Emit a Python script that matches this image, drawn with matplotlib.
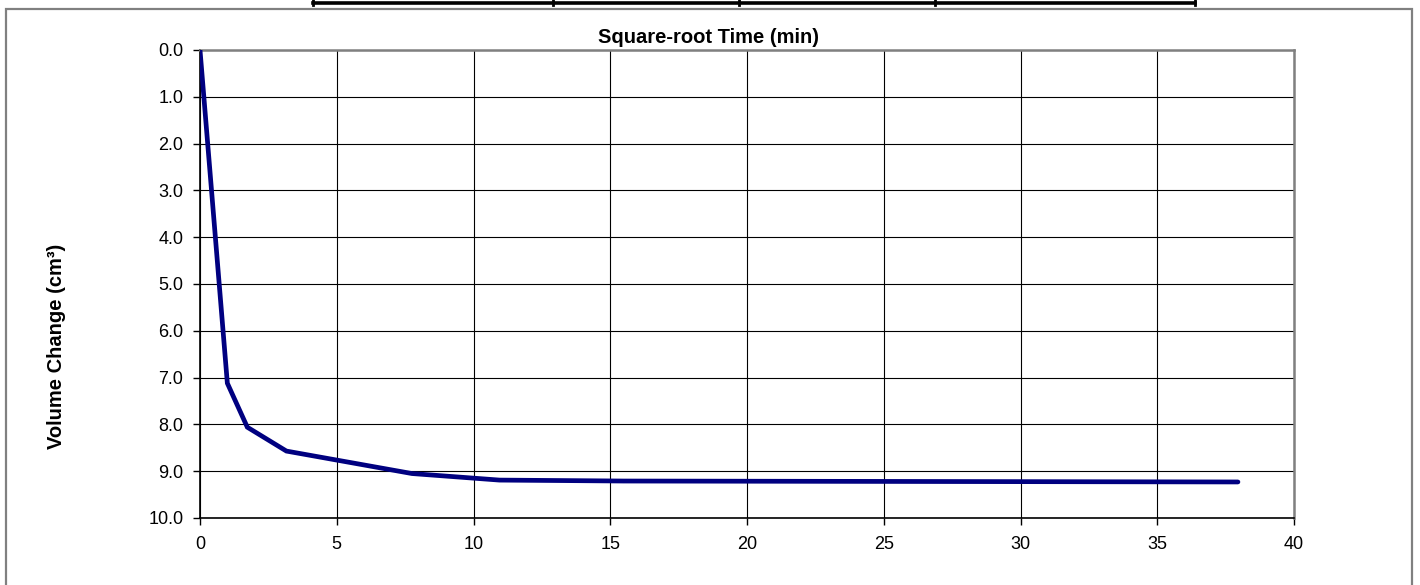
import matplotlib
matplotlib.use("Agg")
import matplotlib.pyplot as plt
from matplotlib.lines import Line2D
from matplotlib.patches import Rectangle

plt.rcParams['font.family'] = ['Liberation Sans', 'DejaVu Sans']

# square-root of elapsed time (min^0.5) and measured volume change (cm3)
sqrt_time = [0.0, 1.0, 1.73, 3.16, 7.75, 10.95, 15.49, 37.95]
volume_change = [0.0, 7.12, 8.06, 8.57, 9.05, 9.19, 9.21, 9.23]

x_ticks = [0, 5, 10, 15, 20, 25, 30, 35, 40]
y_ticks = [0, 1, 2, 3, 4, 5, 6, 7, 8, 9, 10]

W, H = 1420, 585
fig = plt.figure(figsize=(W / 100, H / 100), dpi=100)
ax = fig.add_axes([200 / W, 1 - 518 / H, 1094 / W, 468 / H])

ax.plot(sqrt_time, volume_change, color='#000080', lw=3.4,
        solid_capstyle='round', solid_joinstyle='miter', zorder=3)

ax.set_xlim(0, 40)
ax.set_ylim(10, 0)
ax.set_xticks(x_ticks)
ax.set_yticks(y_ticks)
ax.set_yticklabels(['%.1f' % v for v in y_ticks])
ax.grid(True, color='black', lw=0.8)
ax.set_axisbelow(True)
ax.tick_params(labelsize=13, length=5, width=1, direction='out')
ax.tick_params(axis='y', pad=7)
ax.tick_params(axis='x', pad=8)

for side in ('left', 'bottom'):
    ax.spines[side].set_color('black')
    ax.spines[side].set_linewidth(1.2)
for side in ('top', 'right'):
    ax.spines[side].set_color('#808080')
    ax.spines[side].set_linewidth(1.8)

ax.set_title('Square-root Time (min)', fontsize=14.5, fontweight='bold',
             x=0.465, pad=5)
fig.text(57 / W, 1 - 346 / H, 'Volume Change (cm³)', rotation=90,
         ha='center', va='center', fontsize=14.5, fontweight='bold')

# chart frame
fig.patches.append(Rectangle((6 / W, -0.05), 1406 / W, 1 - 9 / H + 0.05,
                             transform=fig.transFigure, fill=False,
                             edgecolor='#808080', lw=1.6))

# bottom edge of the table above the chart
tf = fig.transFigure
fig.lines.append(Line2D([313 / W, 1195 / W], [1 - 3 / H, 1 - 3 / H],
                        transform=tf, color='black', lw=2.6))
for xp in (313, 553, 739, 935, 1195):
    fig.lines.append(Line2D([xp / W, xp / W], [1 - 5 / H, 1.0],
                            transform=tf, color='black', lw=2.0))

fig.savefig('out.png', dpi=100)
